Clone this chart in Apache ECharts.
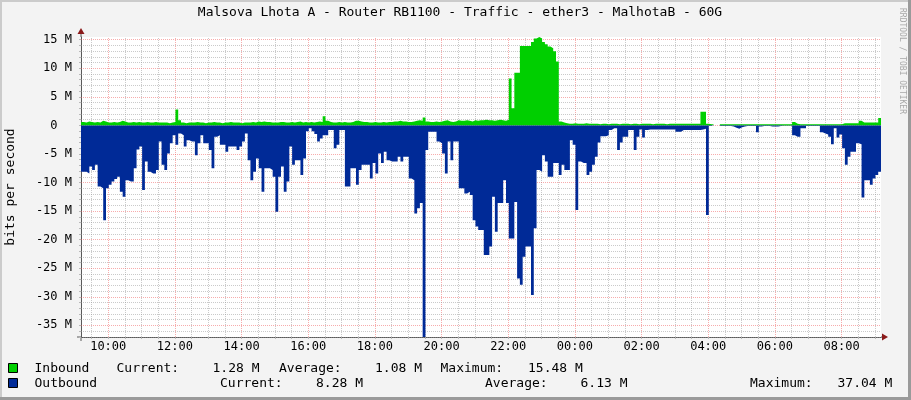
<!DOCTYPE html>
<html>
<head>
<meta charset="utf-8">
<script src="https://cdn.jsdelivr.net/npm/echarts@6/dist/echarts.min.js"></script>
<style>
html,body{margin:0;padding:0;background:#F3F3F3;}
#chart{width:911px;height:400px;}
</style>
</head>
<body>
<div id="chart"></div>
<script>
// ---- data (Mbit/s, 5-minute samples starting 09:11) ----
const startMinute = 551;      // 09:11
const stepMinutes = 5;

const inbound = [
  0.6,0.5,0.7,0.6,0.5,0.6,0.5,0.8,0.7,0.5,
  0.5,0.6,0.5,0.6,0.8,0.7,0.5,0.5,0.6,0.5,
  0.6,0.5,0.5,0.6,0.5,0.5,0.6,0.5,0.5,0.5,
  0.5,0.4,0.5,0.6,2.8,0.9,0.5,0.4,0.5,0.5,
  0.5,0.6,0.5,0.5,0.4,0.5,0.5,0.6,0.5,0.5,
  0.4,0.5,0.5,0.6,0.5,0.5,0.5,0.4,0.5,0.5,
  0.5,0.6,0.5,0.7,0.6,0.7,0.6,0.6,0.5,0.5,
  0.5,0.6,0.6,0.5,0.5,0.6,0.5,0.6,0.7,0.5,
  0.6,0.5,0.6,0.5,0.6,0.7,0.6,1.6,0.8,0.6,
  0.5,0.5,0.6,0.5,0.6,0.5,0.5,0.6,0.8,0.8,
  0.7,0.6,0.6,0.5,0.5,0.6,0.5,0.5,0.6,0.5,
  0.6,0.6,0.7,0.7,0.8,0.7,0.7,0.6,0.6,0.7,
  0.8,0.9,0.8,1.4,0.7,0.6,0.6,0.7,0.6,0.7,
  0.8,0.9,0.7,0.6,0.7,0.9,0.8,0.8,0.9,0.8,
  0.7,0.9,0.8,0.9,0.9,1.0,0.9,0.9,0.8,0.9,
  1.0,0.9,0.8,1.0,8.2,3.0,9.2,9.2,13.9,13.9,
  13.9,13.9,14.6,15.2,15.48,15.2,14.6,14.2,13.8,13.5,
  13.0,11.2,0.7,0.5,0.4,0.3,0.3,0.4,0.3,0.3,
  0.3,0.4,0.3,0.3,0.3,0.3,0.2,0.3,0.3,0.2,
  0.3,0.3,0.3,0.2,0.3,0.3,0.3,0.2,0.3,0.3,
  0.2,0.3,0.3,0.3,0.3,0.2,0.3,0.3,0.3,0.3,
  0.2,0.3,0.3,0.3,0.3,0.3,0.3,0.3,0.3,0.3,
  0.3,0.3,0.3,2.4,2.4,0.3,0.2,0.2,null,null,
  0.2,0.2,0.2,0.2,0.2,0.2,0.2,0.2,0.2,0.2,
  0.2,0.2,0.2,0.2,0.2,0.2,0.2,0.2,0.2,0.2,
  0.2,0.2,0.2,0.2,0.2,0.2,0.6,0.3,0.2,0.2,
  0.2,0.2,0.2,0.2,0.2,0.2,0.2,0.2,0.2,0.2,
  0.2,0.2,0.2,0.2,0.4,0.4,0.4,0.4,0.4,0.4,
  0.8,0.5,0.5,0.5,0.5,0.5,0.5,1.3,1.28
];

// outbound traffic magnitude (drawn below zero)
const outbound = [
  8.1,8.1,8.4,7.2,7.8,6.9,10.7,11.0,16.6,11.0,
  10.4,9.8,9.4,9.0,11.6,12.5,9.6,9.8,9.8,7.5,
  4.2,3.7,11.3,6.3,8.1,8.4,8.4,7.8,2.8,6.9,
  7.8,4.9,3.1,1.7,3.4,1.4,1.7,3.7,2.6,2.8,
  2.8,5.2,3.1,1.7,3.1,3.1,4.3,7.5,2.0,1.7,
  3.4,3.4,4.6,3.7,3.7,3.7,4.3,3.7,2.8,1.4,
  6.1,9.6,8.1,5.8,7.5,11.6,7.5,7.5,7.8,9.0,
  15.1,9.0,7.2,11.6,9.8,3.7,6.9,6.1,6.1,8.7,
  5.8,1.0,0.5,1.0,1.5,2.8,2.3,1.7,1.7,0.8,
  0.8,4.0,3.4,0.8,0.8,10.7,10.7,7.5,7.5,10.4,
  7.8,6.9,6.9,6.9,9.3,6.6,8.4,4.9,6.6,4.6,
  6.1,6.3,6.3,6.3,5.5,6.3,5.5,5.5,9.3,9.6,
  15.4,14.5,13.6,37.04,4.3,1.1,1.1,1.1,2.8,3.1,
  4.9,8.4,2.8,6.1,2.8,2.8,11.0,11.0,11.9,11.6,
  12.2,16.6,17.7,18.3,18.3,22.7,22.7,21.2,12.5,18.6,
  13.6,13.6,9.6,13.6,19.8,19.8,13.4,26.8,27.9,23.0,
  21.2,21.2,29.7,18.0,7.8,8.1,5.2,6.3,9.0,9.0,
  6.6,6.6,8.7,6.9,7.8,7.8,2.6,3.4,14.8,6.3,
  6.6,6.6,8.7,8.1,6.9,5.5,3.0,1.9,1.9,1.7,
  0.8,0.5,0.5,4.3,3.0,2.0,2.0,0.8,0.8,4.3,
  2.0,0.7,2.1,0.8,0.7,0.7,0.7,0.7,0.7,0.7,
  0.7,0.7,0.7,0.7,1.1,1.1,0.8,0.8,0.8,0.8,
  0.8,0.8,0.8,0.7,0.6,15.7,0.1,0.1,null,null,
  0.1,0.1,0.1,0.1,0.2,0.4,0.6,0.3,0.2,0.1,
  0.1,0.1,0.1,1.2,0.2,0.1,0.1,0.1,0.2,0.2,
  0.2,0.1,0.05,0.05,0.05,0.05,1.7,2.0,2.0,0.5,
  0.5,0.1,0.1,0.1,0.1,0.1,1.2,1.4,1.6,2.0,
  3.3,0.5,2.1,1.6,4.0,6.9,5.5,4.6,4.6,3.1,
  3.3,12.6,9.6,9.6,10.4,9.3,8.7,8.1,8.28
];

const xTickLabels = ['10:00','12:00','14:00','16:00','18:00','20:00','22:00','00:00','02:00','04:00','06:00','08:00'];
const yTickValues = [15,10,5,0,-5,-10,-15,-20,-25,-30,-35];

const legendInbound  = ['Inbound',  '1.28 M', '1.08 M', '15.48 M'];
const legendOutbound = ['Outbound', '8.28 M', '6.13 M', '37.04 M'];

const titleText = 'Malsova Lhota A - Router RB1100 - Traffic - ether3 - MalhotaB - 60G';

// ---- derived ----
const xMin = startMinute, xMax = startMinute + 1440;
function toMinute(label){
  const p = label.split(':'); let m = (+p[0])*60 + (+p[1]);
  if (m < xMin) m += 1440; return m;
}
const xTickValues = xTickLabels.map(toMinute);
function fmtTime(v){
  const m = ((Math.round(v) % 1440) + 1440) % 1440;
  const h = Math.floor(m/60), mm = m % 60;
  return (h<10?'0':'')+h+':'+(mm<10?'0':'')+mm;
}
const xMinor = [];
for (let m = Math.ceil(xMin/30)*30; m <= xMax; m += 30) xMinor.push(m);
const yMinor = [];
for (let v = -37; v <= 15; v++) yMinor.push(v);

const FONT = "'DejaVu Sans Mono', monospace";
const minorStyle = {color:'rgba(150,150,150,0.5)', width:1, type:[1,1]};
const majorStyle = {color:'rgba(240,90,90,0.5)', width:1, type:[1,1]};

const gridLines = [];
xMinor.forEach(m => gridLines.push({xAxis:m, lineStyle: (m % 120 === 0) ? majorStyle : minorStyle}));
yMinor.forEach(v => gridLines.push({yAxis:v, lineStyle: (v % 5 === 0) ? majorStyle : minorStyle}));

const inData = inbound.map((v,i) => [startMinute + i*stepMinutes, v == null ? '-' : v]);
const outData = outbound.map((v,i) => [startMinute + i*stepMinutes, v == null ? '-' : -v]);

const AX = '#5a5a5a', ARROW = '#8b1a1a';

function txt(x, y, s, extra){
  return Object.assign({type:'text', x:x, y:y, silent:true,
    style:{text:s, fill:'#000', font:'13px ' + FONT, align:'left', verticalAlign:'middle',
           textAlign:'left', textVerticalAlign:'middle'}}, extra||{});
}

const graphics = [
  // frame
  {type:'rect', shape:{x:0,y:0,width:911,height:2}, style:{fill:'#CBCBCB'}, silent:true},
  {type:'rect', shape:{x:0,y:0,width:2,height:400}, style:{fill:'#CBCBCB'}, silent:true},
  {type:'rect', shape:{x:908,y:0,width:3,height:400}, style:{fill:'#9A9A9A'}, silent:true},
  {type:'rect', shape:{x:0,y:397,width:911,height:3}, style:{fill:'#9A9A9A'}, silent:true},
  // axis extensions + arrows
  {type:'line', shape:{x1:81,y1:33,x2:81,y2:37}, style:{stroke:AX, lineWidth:1}, silent:true},
  {type:'line', shape:{x1:81,y1:337,x2:81,y2:341}, style:{stroke:AX, lineWidth:1}, silent:true},
  {type:'line', shape:{x1:77,y1:337,x2:81,y2:337}, style:{stroke:AX, lineWidth:1}, silent:true},
  {type:'line', shape:{x1:881,y1:337,x2:884,y2:337}, style:{stroke:AX, lineWidth:1}, silent:true},
  {type:'polygon', shape:{points:[[77.5,34],[84.5,34],[81,28]]}, style:{fill:ARROW}, silent:true},
  {type:'polygon', shape:{points:[[882,333.5],[882,340.5],[888,337]]}, style:{fill:ARROW}, silent:true},
  // title
  {type:'text', x:460, y:13, silent:true, style:{text:titleText, fill:'#000', font:'13px ' + FONT,
     align:'center', verticalAlign:'middle', textAlign:'center', textVerticalAlign:'middle'}},
  // watermark
  {type:'text', x:902.5, y:61, rotation:-Math.PI/2, silent:true,
   style:{text:'RRDTOOL / TOBI OETIKER', fill:'#A8A8A8', font:'8px ' + FONT,
     align:'center', verticalAlign:'middle', textAlign:'center', textVerticalAlign:'middle'}},
  // legend boxes
  {type:'rect', shape:{x:8.5,y:363.5,width:9,height:9}, style:{fill:'#00CF00', stroke:'#000', lineWidth:1}, silent:true},
  {type:'rect', shape:{x:8.5,y:378.5,width:9,height:9}, style:{fill:'#002A97', stroke:'#000', lineWidth:1}, silent:true},
  // legend row 1
  txt(34.5, 369, legendInbound[0]),
  txt(116.5, 369, 'Current:'),
  txt(212.5, 369, legendInbound[1]),
  txt(279, 369, 'Average:'),
  txt(375, 369, legendInbound[2]),
  txt(440.5, 369, 'Maximum:'),
  txt(528, 369, legendInbound[3]),
  // legend row 2
  txt(34.5, 384, legendOutbound[0]),
  txt(220, 384, 'Current:'),
  txt(316, 384, legendOutbound[1]),
  txt(485, 384, 'Average:'),
  txt(580.5, 384, legendOutbound[2]),
  txt(750, 384, 'Maximum:'),
  txt(837.5, 384, legendOutbound[3])
];

const chart = echarts.init(document.getElementById('chart'), null, {renderer:'canvas'});
chart.setOption({
  backgroundColor:'#F3F3F3',
  animation:false,
  grid:{left:81, top:37, width:800, height:300, show:true, backgroundColor:'#FFFFFF', borderWidth:0,
        containLabel:false, outerBoundsMode:'none'},
  xAxis:{
    type:'value', min:xMin, max:xMax,
    axisLine:{show:true, onZero:false, lineStyle:{color:AX, width:1}},
    axisTick:{show:true, customValues:xMinor, length:2, lineStyle:{color:'#B8B8B8'}},
    axisLabel:{customValues:xTickValues, formatter:fmtTime, color:'#000', fontFamily:FONT, fontSize:12, margin:4},
    splitLine:{show:false}
  },
  yAxis:{
    type:'value', min:-37.04, max:15.48,
    axisLine:{show:true, lineStyle:{color:AX, width:1}},
    axisTick:{show:true, customValues:yMinor, length:2, lineStyle:{color:'#B8B8B8'}},
    axisLabel:{customValues:yTickValues, formatter:function(v){ return v === 0 ? '0  ' : (v + ' M'); },
      color:'#000', fontFamily:FONT, fontSize:12, margin:9},
    splitLine:{show:false},
    name:'bits per second', nameLocation:'middle', nameGap:64, nameRotate:90,
    nameTextStyle:{color:'#000', fontFamily:FONT, fontSize:13}
  },
  series:[
    {
      name:'Inbound', type:'line', step:'end', symbol:'none', showSymbol:false, z:3,
      data:inData, connectNulls:false,
      lineStyle:{width:0, opacity:0}, itemStyle:{color:'#00CF00'},
      areaStyle:{color:'#00CF00', opacity:1},
      markLine:{silent:true, z:1, symbol:['none','none'], label:{show:false}, animation:false,
        emphasis:{disabled:true}, data:gridLines}
    },
    {
      name:'Outbound', type:'line', step:'end', symbol:'none', showSymbol:false, z:3,
      data:outData, connectNulls:false,
      lineStyle:{width:0, opacity:0}, itemStyle:{color:'#002A97'},
      areaStyle:{color:'#002A97', opacity:1}
    }
  ],
  graphic:graphics
});
</script>
</body>
</html>
